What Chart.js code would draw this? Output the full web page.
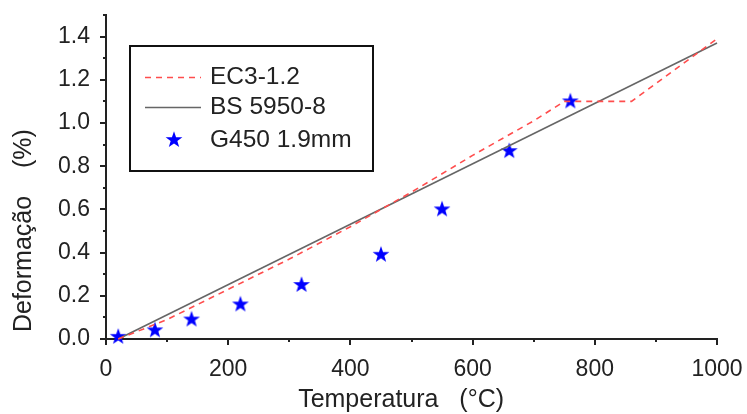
<!DOCTYPE html>
<html><head><meta charset="utf-8">
<script src="https://cdn.jsdelivr.net/npm/chart.js@4"></script>
<style>html,body{margin:0;padding:0;background:#fff;overflow:hidden}#wrap{width:747px;height:414px;position:relative}</style>
</head><body><div id="wrap"><canvas id="c" width="747" height="414"></canvas></div>
<script>
// ---- data ----
const ec3Temps  = [20, 100, 200, 300, 400, 500, 600, 700, 750, 860, 1000];
const ec3Strain = [0, 0.09, 0.23, 0.37, 0.52, 0.68, 0.85, 1.01, 1.10, 1.10, 1.39];
const bsTemps   = [20, 1000];
const bsStrain  = [0, 1.37];
const testTemps  = [20, 80, 140, 220, 320, 450, 550, 660, 760];
const testStrain = [0.01, 0.04, 0.09, 0.16, 0.25, 0.39, 0.60, 0.87, 1.10];
const seriesLabels = ['EC3-1.2', 'BS 5950-8', 'G450 1.9mm'];
const xTickLabels = ['0', '200', '400', '600', '800', '1000'];
const yTickLabels = ['0.0', '0.2', '0.4', '0.6', '0.8', '1.0', '1.2', '1.4'];
const xTitle = 'Temperatura   (°C)   ';
const yTitle = ' Deformação    (%)';

const FONT = "'Liberation Sans', Arial, sans-serif";
const TXT = '#222';

function makeStar(R, color) {
  const s = Math.ceil(R * 2) + 2;
  const c = document.createElement('canvas');
  c.width = s; c.height = s;
  const g = c.getContext('2d');
  g.fillStyle = color;
  g.beginPath();
  for (let i = 0; i < 10; i++) {
    const r = i % 2 ? R * 0.4 : R;
    const a = -Math.PI / 2 + i * Math.PI / 5;
    g.lineTo(s / 2 + r * Math.cos(a), s / 2 + r * Math.sin(a));
  }
  g.closePath();
  g.fill();
  return c;
}
const starImg = makeStar(8.8, '#0000ff');

const toXY = (xs, ys) => xs.map((x, i) => ({x: x, y: ys[i]}));

const tickPlugin = {
  id: 'ticksAndLegend',
  afterDraw(chart) {
    const ctx = chart.ctx;
    const xs = chart.scales.x, ys = chart.scales.y;
    ctx.save();
    ctx.strokeStyle = '#222';
    ctx.lineWidth = 2;
    xs.ticks.forEach(t => {
      const px = Math.round(xs.getPixelForValue(t.value));
      const major = Math.round(t.value) % 200 === 0;
      ctx.beginPath();
      ctx.moveTo(px, xs.top);
      ctx.lineTo(px, xs.top + (major ? 6 : 3));
      ctx.stroke();
    });
    ys.ticks.forEach(t => {
      const py = Math.round(ys.getPixelForValue(t.value));
      const major = Math.round(t.value * 10) % 2 === 0;
      ctx.beginPath();
      ctx.moveTo(ys.right, py);
      ctx.lineTo(ys.right - (major ? 6 : 3), py);
      ctx.stroke();
    });
    // legend box
    const ds = chart.data.datasets;
    ctx.fillStyle = '#fff';
    ctx.fillRect(130, 46, 243, 125);
    ctx.strokeStyle = '#111';
    ctx.lineWidth = 2;
    ctx.strokeRect(130, 46, 243, 125);
    const rows = [77, 107, 140];
    ctx.font = '24.5px ' + FONT;
    ctx.textBaseline = 'middle';
    ctx.textAlign = 'left';
    ds.forEach((d, i) => {
      const y = rows[i];
      if (d.showLine !== false) {
        ctx.save();
        ctx.strokeStyle = d.borderColor;
        ctx.lineWidth = d.borderWidth;
        ctx.setLineDash(d.borderDash || []);
        ctx.beginPath();
        ctx.moveTo(145, y + 0.5);
        ctx.lineTo(201, y + 0.5);
        ctx.stroke();
        ctx.restore();
      } else {
        ctx.drawImage(starImg, 174 - starImg.width / 2, y - starImg.height / 2);
      }
      ctx.fillStyle = TXT;
      ctx.fillText(d.label, 210, y);
    });
    ctx.restore();
  }
};

new Chart(document.getElementById('c'), {
  type: 'scatter',
  data: {
    datasets: [
      {label: seriesLabels[0], data: toXY(ec3Temps, ec3Strain), showLine: true,
       borderColor: '#ff4d4d', borderWidth: 1.6, borderDash: [6, 5], pointRadius: 0, clip: false},
      {label: seriesLabels[1], data: toXY(bsTemps, bsStrain), showLine: true,
       borderColor: '#666666', borderWidth: 1.6, pointRadius: 0, clip: false},
      {label: seriesLabels[2], data: toXY(testTemps, testStrain), showLine: false,
       pointStyle: starImg, pointRadius: 9, backgroundColor: '#0000ff', borderColor: '#0000ff', clip: false}
    ]
  },
  options: {
    responsive: false,
    animation: false,
    devicePixelRatio: 1,
    layout: {padding: {top: 15, right: 30, left: 0, bottom: 0}},
    plugins: {legend: {display: false}, tooltip: {enabled: false}},
    scales: {
      x: {
        type: 'linear', min: 0, max: 1000,
        afterFit: s => { s.height = 75; s.paddingRight = 0; s.paddingLeft = 0; },
        border: {display: true, color: '#222', width: 2},
        grid: {display: true, drawOnChartArea: false, drawTicks: true, tickLength: 6, tickColor: 'rgba(0,0,0,0)'},
        ticks: {stepSize: 100, autoSkip: false, maxRotation: 0, padding: 11, color: TXT,
          font: {family: FONT, size: 23},
          callback: v => (Math.round(v) % 200 === 0 ? xTickLabels[Math.round(v) / 200] : '')},
        title: {display: true, text: xTitle, color: TXT, font: {family: FONT, size: 25}, padding: {top: 0, bottom: -1}}
      },
      y: {
        type: 'linear', min: 0, max: 1.5,
        afterFit: s => { s.width = 106; s.paddingTop = 0; s.paddingBottom = 0; },
        border: {display: true, color: '#222', width: 2},
        grid: {display: true, drawOnChartArea: false, drawTicks: true, tickLength: 6, tickColor: 'rgba(0,0,0,0)'},
        ticks: {stepSize: 0.1, autoSkip: false, padding: 10, color: TXT,
          font: {family: FONT, size: 23},
          callback: v => { const k = Math.round(v * 10); return (k % 2 === 0 && k / 2 < yTickLabels.length) ? yTickLabels[k / 2] : ''; }},
        title: {display: true, text: yTitle, align: 'start', color: TXT, font: {family: FONT, size: 25}, padding: {top: 9, bottom: 0}}
      }
    }
  },
  plugins: [tickPlugin]
});
</script>
</body></html>
